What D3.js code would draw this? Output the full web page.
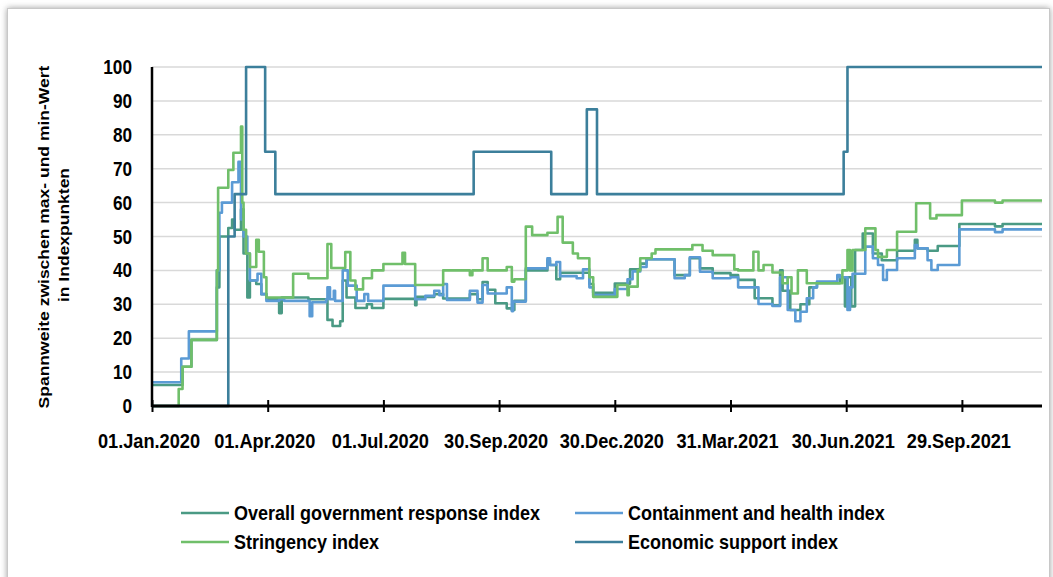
<!DOCTYPE html>
<html>
<head>
<meta charset="utf-8">
<script src="https://cdn.jsdelivr.net/npm/d3@7"></script>
<style>
  body { margin: 0; background: #fff; }
  text { font-family: "Liberation Sans", Arial, sans-serif; font-weight: bold; fill: #000; }
</style>
</head>
<body>
<svg id="chart" width="1053" height="577"></svg>
<script>
// days counted from 01.01.2020
var startDate = "2020-01-01";
var endDay = 700;
var tickDates = ["2020-01-01", "2020-04-01", "2020-07-01", "2020-09-30", "2020-12-30", "2021-03-31", "2021-06-30", "2021-09-29"];
var yTicks = [0, 10, 20, 30, 40, 50, 60, 70, 80, 90, 100];

var overallDays = [0, 24, 31, 51, 53, 60, 63, 65, 70, 72, 75, 77, 82, 86, 90, 100, 102, 123, 138, 142, 148, 150, 153, 160, 169, 173, 182, 207, 208, 222, 229, 250, 256, 260, 264, 270, 279, 283, 285, 294, 311, 313, 318, 321, 344, 347, 364, 376, 384, 389, 411, 423, 431, 441, 455, 461, 474, 488, 494, 496, 502, 510, 517, 523, 541, 545, 547, 550, 553, 559, 567, 574, 586, 600, 602, 610, 618, 635, 663, 669, 700];
var overallVals = [6.2, 11.6, 19.5, 35, 50, 52.5, 55, 52, 58, 45, 32, 37, 36, 33, 31.5, 27.4, 32, 31.5, 25.4, 23.6, 25, 37, 32, 28.9, 30, 28.9, 31.6, 29.7, 32.2, 33, 31.7, 33, 31.5, 36.6, 34.3, 30.3, 28.8, 28.3, 31, 40, 43, 41.6, 37.4, 39.3, 36, 33.4, 36.1, 40.3, 42, 43.3, 38.6, 43.6, 40.6, 39.2, 38.6, 37.2, 31.8, 29.7, 40, 34, 28.3, 30, 35, 36.2, 38, 29.4, 38, 29.4, 46, 50.9, 45, 43, 45.8, 49, 46.5, 45.8, 47.2, 53.7, 53, 53.7, 53.7];

var containDays = [0, 23, 29, 51, 53, 55, 63, 68, 70, 72, 75, 77, 83, 86, 90, 100, 104, 124, 126, 137, 138, 140, 143, 144, 150, 154, 161, 167, 170, 182, 207, 215, 222, 226, 229, 232, 250, 256, 260, 264, 279, 283, 284, 294, 311, 313, 318, 321, 334, 339, 344, 347, 364, 374, 378, 384, 389, 411, 419, 423, 431, 441, 455, 461, 477, 488, 494, 500, 506, 510, 515, 520, 523, 539, 541, 547, 549, 551, 561, 567, 571, 575, 578, 586, 600, 602, 610, 613, 618, 635, 663, 669, 700];
var containVals = [7, 14, 22, 40, 57, 60, 66, 72, 55, 50, 45, 37, 39, 33, 31, 31.5, 31, 26.5, 30.6, 31.5, 35, 31.5, 34, 31, 40, 35.5, 31, 33, 31, 35.5, 31.5, 32.5, 34, 32.7, 36, 31.3, 34, 30.5, 35.7, 33.2, 35, 28, 30.8, 40.6, 43.6, 41.6, 42.5, 38.3, 37.7, 40.3, 35, 32.7, 34.5, 37.4, 39.7, 41, 43.3, 37.7, 38.6, 43.9, 39.6, 37.7, 38, 35, 30.1, 29.5, 38, 28.3, 25, 27.8, 31.8, 35, 36.7, 38.6, 38, 28.3, 35, 39, 47, 43.6, 41.6, 37.2, 40.1, 43.6, 47.5, 46.5, 43, 40.1, 41.6, 52.1, 51.3, 52.1, 52.1];

var stringDays = [0, 21, 24, 31, 51, 52, 60, 64, 70, 71, 72, 74, 77, 82, 84, 88, 90, 111, 123, 138, 141, 152, 156, 160, 166, 173, 182, 197, 199, 207, 229, 250, 252, 260, 264, 279, 283, 285, 294, 299, 311, 319, 323, 331, 335, 344, 347, 366, 374, 375, 382, 384, 393, 396, 425, 433, 441, 458, 461, 473, 477, 481, 488, 496, 500, 503, 508, 515, 543, 547, 549, 551, 561, 569, 571, 578, 586, 601, 612, 617, 637, 663, 669, 700];
var stringVals = [0, 5, 11.6, 19.5, 40, 64.4, 69.6, 74.7, 82.4, 60, 52, 45, 41, 49, 45.5, 38, 32, 39, 37.7, 47.8, 40.7, 45.4, 37, 34.4, 37.7, 40, 41.9, 45.2, 41.9, 35.7, 40, 38.6, 40, 43.6, 40, 41, 36.7, 37.4, 52.9, 50.4, 51.1, 55.8, 48.2, 45, 43.6, 38, 32.2, 35.7, 32.7, 35.2, 40, 43.6, 45, 46.2, 47.5, 45.8, 44.5, 40.3, 40, 45.5, 40, 41.6, 39.4, 36.2, 38, 33.2, 40, 36.2, 40, 46, 40, 46, 52.4, 46, 44, 46, 51.4, 59.8, 55.3, 56.3, 60.6, 60, 60.6, 60.6];

var econDays = [0, 60, 65, 74, 89, 97, 253, 314, 342, 350, 544, 547, 700];
var econVals = [0, 50, 62.5, 100, 75, 62.5, 75, 62.5, 87.5, 62.5, 75, 100, 100];

var seriesNames = ["Overall government response index", "Containment and health index", "Stringency index", "Economic support index"];
var seriesColors = ["#4a9a84", "#5b9bd5", "#70bf6a", "#3c7f9b"];

var svg = d3.select("#chart");
var parse = d3.timeParse("%Y-%m-%d");
var t0 = parse(startDate);
var toDate = function(d) { return d3.timeDay.offset(t0, d); };

var m = { left: 152, right: 1042, top: 67, bottom: 406 };
var x = d3.scaleTime().domain([t0, toDate(endDay)]).range([m.left, m.right]);
var y = d3.scaleLinear().domain([0, 100]).range([m.bottom, m.top]);

// frame with shadow
var defs = svg.append("defs");
var f = defs.append("filter").attr("id", "sh").attr("x", "-5%").attr("y", "-5%").attr("width", "110%").attr("height", "110%");
f.append("feDropShadow").attr("dx", 0).attr("dy", 0).attr("stdDeviation", 3).attr("flood-color", "#777").attr("flood-opacity", 0.7);
svg.append("rect").attr("x", 7.5).attr("y", 8.5).attr("width", 1042).attr("height", 580)
  .attr("fill", "#fff").attr("stroke", "#c8c8c8").attr("filter", "url(#sh)");

// squished bold text helper
function label(g, tx, ty, s, anchor, size, sx) {
  return g.append("g").attr("transform", "translate(" + tx + "," + ty + ") scale(" + sx + ",1)")
    .append("text").attr("text-anchor", anchor).style("font-size", size + "px").text(s);
}

// gridlines
svg.append("g").selectAll("line").data(yTicks.filter(function(d) { return d > 0; })).enter().append("line")
  .attr("x1", m.left).attr("x2", m.right)
  .attr("y1", function(d) { return y(d); }).attr("y2", function(d) { return y(d); })
  .attr("stroke", "#d9d9d9").attr("stroke-width", 1.5);

// y labels
var yl = svg.append("g");
yTicks.forEach(function(v) { label(yl, 132, y(v) + 7, v, "end", 20, 0.86); });

// y title
var yt = svg.append("g");
yt.append("g").attr("transform", "translate(49,237) rotate(-90) scale(1,0.85)")
  .append("text").attr("text-anchor", "middle").style("font-size", "17.5px").text("Spannweite zwischen max- und min-Wert");
yt.append("g").attr("transform", "translate(69,235) rotate(-90) scale(1,0.85)")
  .append("text").attr("text-anchor", "middle").style("font-size", "17.5px").text("in Indexpunkten");

// lines
var line = d3.line().curve(d3.curveStepAfter)
  .x(function(d) { return x(toDate(d[0])); })
  .y(function(d) { return y(d[1]); });
var all = [
  d3.zip(overallDays, overallVals),
  d3.zip(containDays, containVals),
  d3.zip(stringDays, stringVals),
  d3.zip(econDays, econVals)
];
svg.append("g").selectAll("path").data(all).enter().append("path")
  .attr("d", line).attr("fill", "none")
  .attr("stroke", function(d, i) { return seriesColors[i]; })
  .attr("stroke-width", 2.6).attr("stroke-linejoin", "round");

// axes
var ticks = tickDates.map(parse);
var xa = svg.append("g").attr("transform", "translate(0," + m.bottom + ")")
  .call(d3.axisBottom(x).tickValues(ticks).tickSize(6).tickFormat(""));
xa.select(".domain").attr("stroke", "#000").attr("stroke-width", 3);
xa.selectAll(".tick line").attr("stroke", "#000").attr("stroke-width", 2).attr("y1", -6);
svg.append("line").attr("x1", m.left).attr("x2", m.left).attr("y1", m.top).attr("y2", m.bottom + 1)
  .attr("stroke", "#000").attr("stroke-width", 2.5);
svg.selectAll(".domain").attr("d", "M" + m.left + ",0H" + m.right);

var fmt = d3.timeFormat("%d.%b.%Y");
var xl = svg.append("g");
ticks.forEach(function(t) { label(xl, x(t) - 3, 448, fmt(t), "middle", 20, 0.91); });

// legend
var lg = svg.append("g");
seriesNames.forEach(function(n, i) {
  var lx = i % 2 === 0 ? 181 : 575;
  var ly = i < 2 ? 513 : 542;
  lg.append("line").attr("x1", lx).attr("x2", lx + 48).attr("y1", ly).attr("y2", ly)
    .attr("stroke", seriesColors[i]).attr("stroke-width", 2.6);
  label(lg, lx + 53, ly + 7, n, "start", 20, 0.9);
});
</script>
</body>
</html>
